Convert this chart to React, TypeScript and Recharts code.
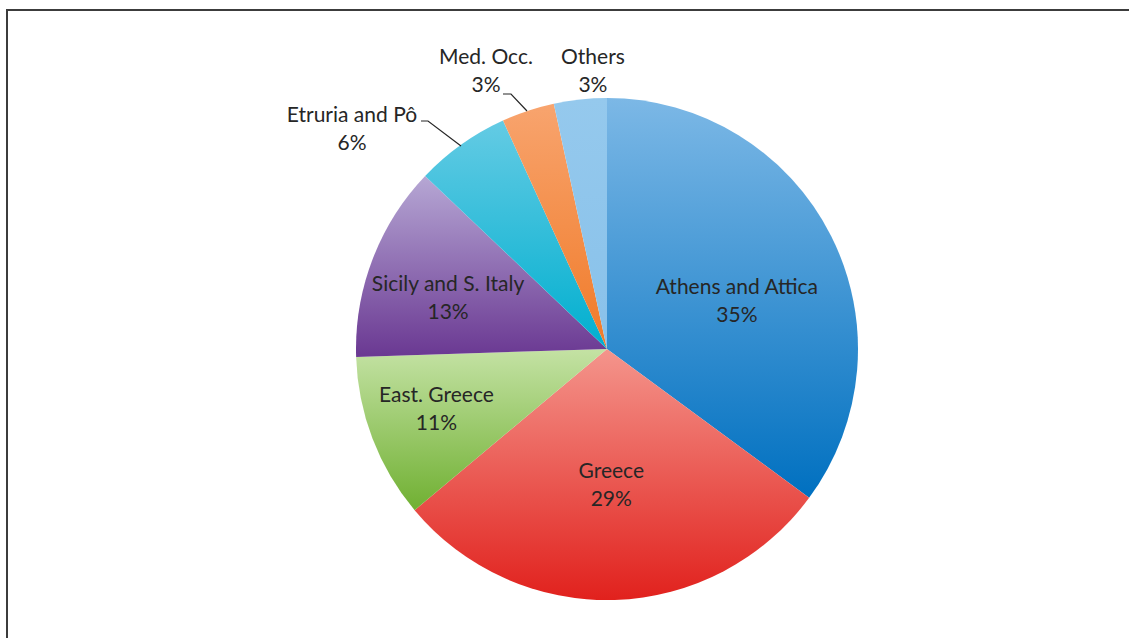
import React from 'react';
import { PieChart, Pie, Cell } from 'recharts';

const categories = [
  'Athens and Attica',
  'Greece',
  'East. Greece',
  'Sicily and S. Italy',
  'Etruria and Pô',
  'Med. Occ.',
  'Others',
];
// shares; labels show them rounded
const shares = [35.1, 28.8, 10.6, 12.6, 6.1, 3.4, 3.4];

const data = categories.map((name, i) => ({ name, value: shares[i] }));

// top / bottom colours of each slice's vertical gradient
const gradients = [
  ['#7cb8e6', '#0070c0'],
  ['#f4958c', '#e1211d'],
  ['#c4e2a4', '#70b032'],
  ['#b6a7d4', '#6a3892'],
  ['#64cbe4', '#00afcf'],
  ['#f8a46e', '#f07a28'],
  ['#95c9ed', '#88c1ea'],
];

// label placement: inside labels follow the slice mid-angle, outside ones sit above the pie
const placements: any[] = [
  { kind: 'in', r: 0.552, shift: -6.5 },
  { kind: 'in', r: 0.542, shift: 0 },
  { kind: 'in', r: 0.72, shift: -1.6 },
  { kind: 'in', r: 0.665, shift: 3.1 },
  { kind: 'out', dx: -1.016, dy: -0.876, line: [[-186, -228], [-179, -228], [-146, -203]] },
  { kind: 'out', dx: -0.482, dy: -1.108, line: [[-104, -255], [-96, -255], [-80, -238]] },
  { kind: 'out', dx: -0.056, dy: -1.108 },
];

const RAD = Math.PI / 180;
const textColor = '#262626';

const renderLabel = (props: any) => {
  const { cx, cy, outerRadius, midAngle, index, name, value } = props;
  const p = placements[index];
  let x: number;
  let y: number;
  if (p.kind === 'in') {
    const a = (midAngle + p.shift) * RAD;
    x = cx + outerRadius * p.r * Math.cos(a);
    y = cy - outerRadius * p.r * Math.sin(a);
  } else {
    x = cx + outerRadius * p.dx;
    y = cy + outerRadius * p.dy;
  }
  return (
    <g key={`lbl-${index}`}>
      {p.line && (
        <polyline
          points={p.line.map((pt: number[]) => `${cx + pt[0]},${cy + pt[1]}`).join(' ')}
          fill="none"
          stroke="#262626"
          strokeWidth={1.2}
        />
      )}
      <text
        x={x}
        y={y}
        textAnchor="middle"
        fill={textColor}
        fontSize={21}
        fontFamily="Lato, 'Open Sans', sans-serif"
      >
        <tspan x={x} dy={-7}>{name}</tspan>
        <tspan x={x} dy={28}>{`${Math.round(value)}%`}</tspan>
      </text>
    </g>
  );
};

export default function App() {
  return (
    <div style={{ position: 'fixed', left: 0, top: 0, width: 1129, height: 638, background: '#fff', overflow: 'hidden' }}>
      <div
        style={{
          position: 'absolute',
          left: 6,
          top: 9,
          width: 1200,
          height: 700,
          borderLeft: '2px solid #3c3c3c',
          borderTop: '2px solid #3c3c3c',
          boxSizing: 'border-box',
        }}
      />
      <PieChart width={1129} height={638} style={{ position: 'absolute', left: 0, top: 0 }}>
        <defs>
          {gradients.map((g, i) => (
            <linearGradient key={i} id={`slice-${i}`} x1="0" y1="0" x2="0" y2="1">
              <stop offset="0%" stopColor={g[0]} />
              <stop offset="100%" stopColor={g[1]} />
            </linearGradient>
          ))}
        </defs>
        <Pie
          data={data}
          dataKey="value"
          nameKey="name"
          cx={602}
          cy={344}
          outerRadius={251}
          startAngle={90}
          endAngle={-270}
          stroke="none"
          label={renderLabel}
          labelLine={false}
          isAnimationActive={false}
        >
          {data.map((d, i) => (
            <Cell key={d.name} fill={`url(#slice-${i})`} />
          ))}
        </Pie>
      </PieChart>
    </div>
  );
}
